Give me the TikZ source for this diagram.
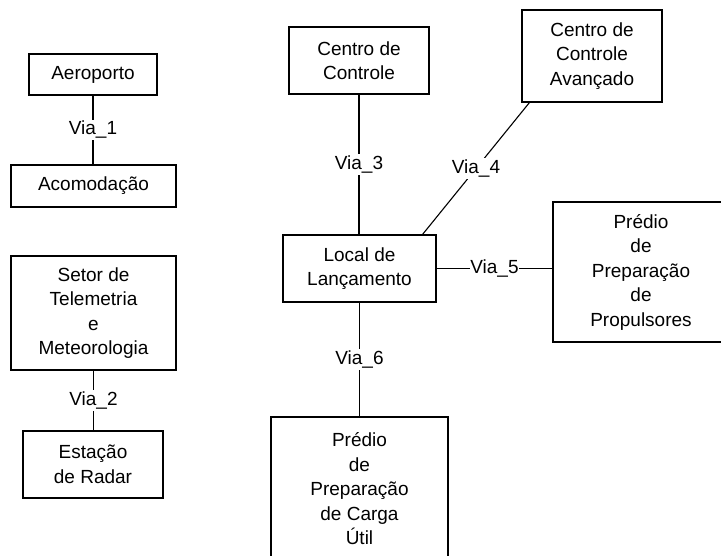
\documentclass[tikz,border=0pt]{standalone}
\usepackage{fontspec}
\setmainfont{Liberation Sans}
\begin{document}
\begin{tikzpicture}[x=1pt,y=-1pt,
  box/.style={draw, line width=1.1pt, inner sep=0pt, align=center,
    font=\fontsize{19}{24.5}\selectfont},
  lbl/.style={fill=white, inner sep=1.5pt, font=\fontsize{19}{24.5}\selectfont},
  conn/.style={line width=1.1pt}]
\clip (0,0) rectangle (721,556);
\fill[white] (0,0) rectangle (721,556);
\node[box, minimum width=128pt, minimum height=41pt] (aero) at (93,74.5) {Aeroporto};
\node[box, minimum width=165pt, minimum height=42pt] (acom) at (93.5,186) {Acomodação};
\node[box, minimum width=165pt, minimum height=114pt] (setor) at (93.5,313) {Setor de\\Telemetria\\e\\Meteorologia};
\node[box, minimum width=140pt, minimum height=67pt] (radar) at (93,464.5) {Estação\\de Radar};
\node[box, minimum width=140pt, minimum height=67pt] (cc) at (359,60.5) {Centro de\\Controle};
\node[box, minimum width=140pt, minimum height=92pt] (cca) at (592,56) {Centro de\\Controle\\Avançado};
\node[box, minimum width=153pt, minimum height=67pt] (loc) at (359.5,268.5) {Local de\\Lançamento};
\node[box, minimum width=176pt, minimum height=140pt] (prop) at (641,272) {Prédio\\de\\Preparação\\de\\Propulsores};
\node[box, minimum width=177pt, minimum height=144pt] (carga) at (359.5,489) {Prédio\\de\\Preparação\\de Carga\\Útil};
\draw[conn] (aero.south) -- node[lbl]{Via\_1} (aero.south |- acom.north);
\draw[conn] (setor.south) -- node[lbl]{Via\_2} (setor.south |- radar.north);
\draw[conn] (cc.south) -- node[lbl]{Via\_3} (cc.south |- loc.north);
\draw[conn] ([xshift=8pt]cca.south west) -- node[lbl]{Via\_4} ([xshift=-14pt]loc.north east);
\draw[conn] (loc.east) -- node[lbl, inner xsep=0.5pt]{Via\_5} (loc.east -| prop.west);
\draw[conn] (loc.south) -- node[lbl]{Via\_6} (loc.south |- carga.north);
\end{tikzpicture}
\end{document}
